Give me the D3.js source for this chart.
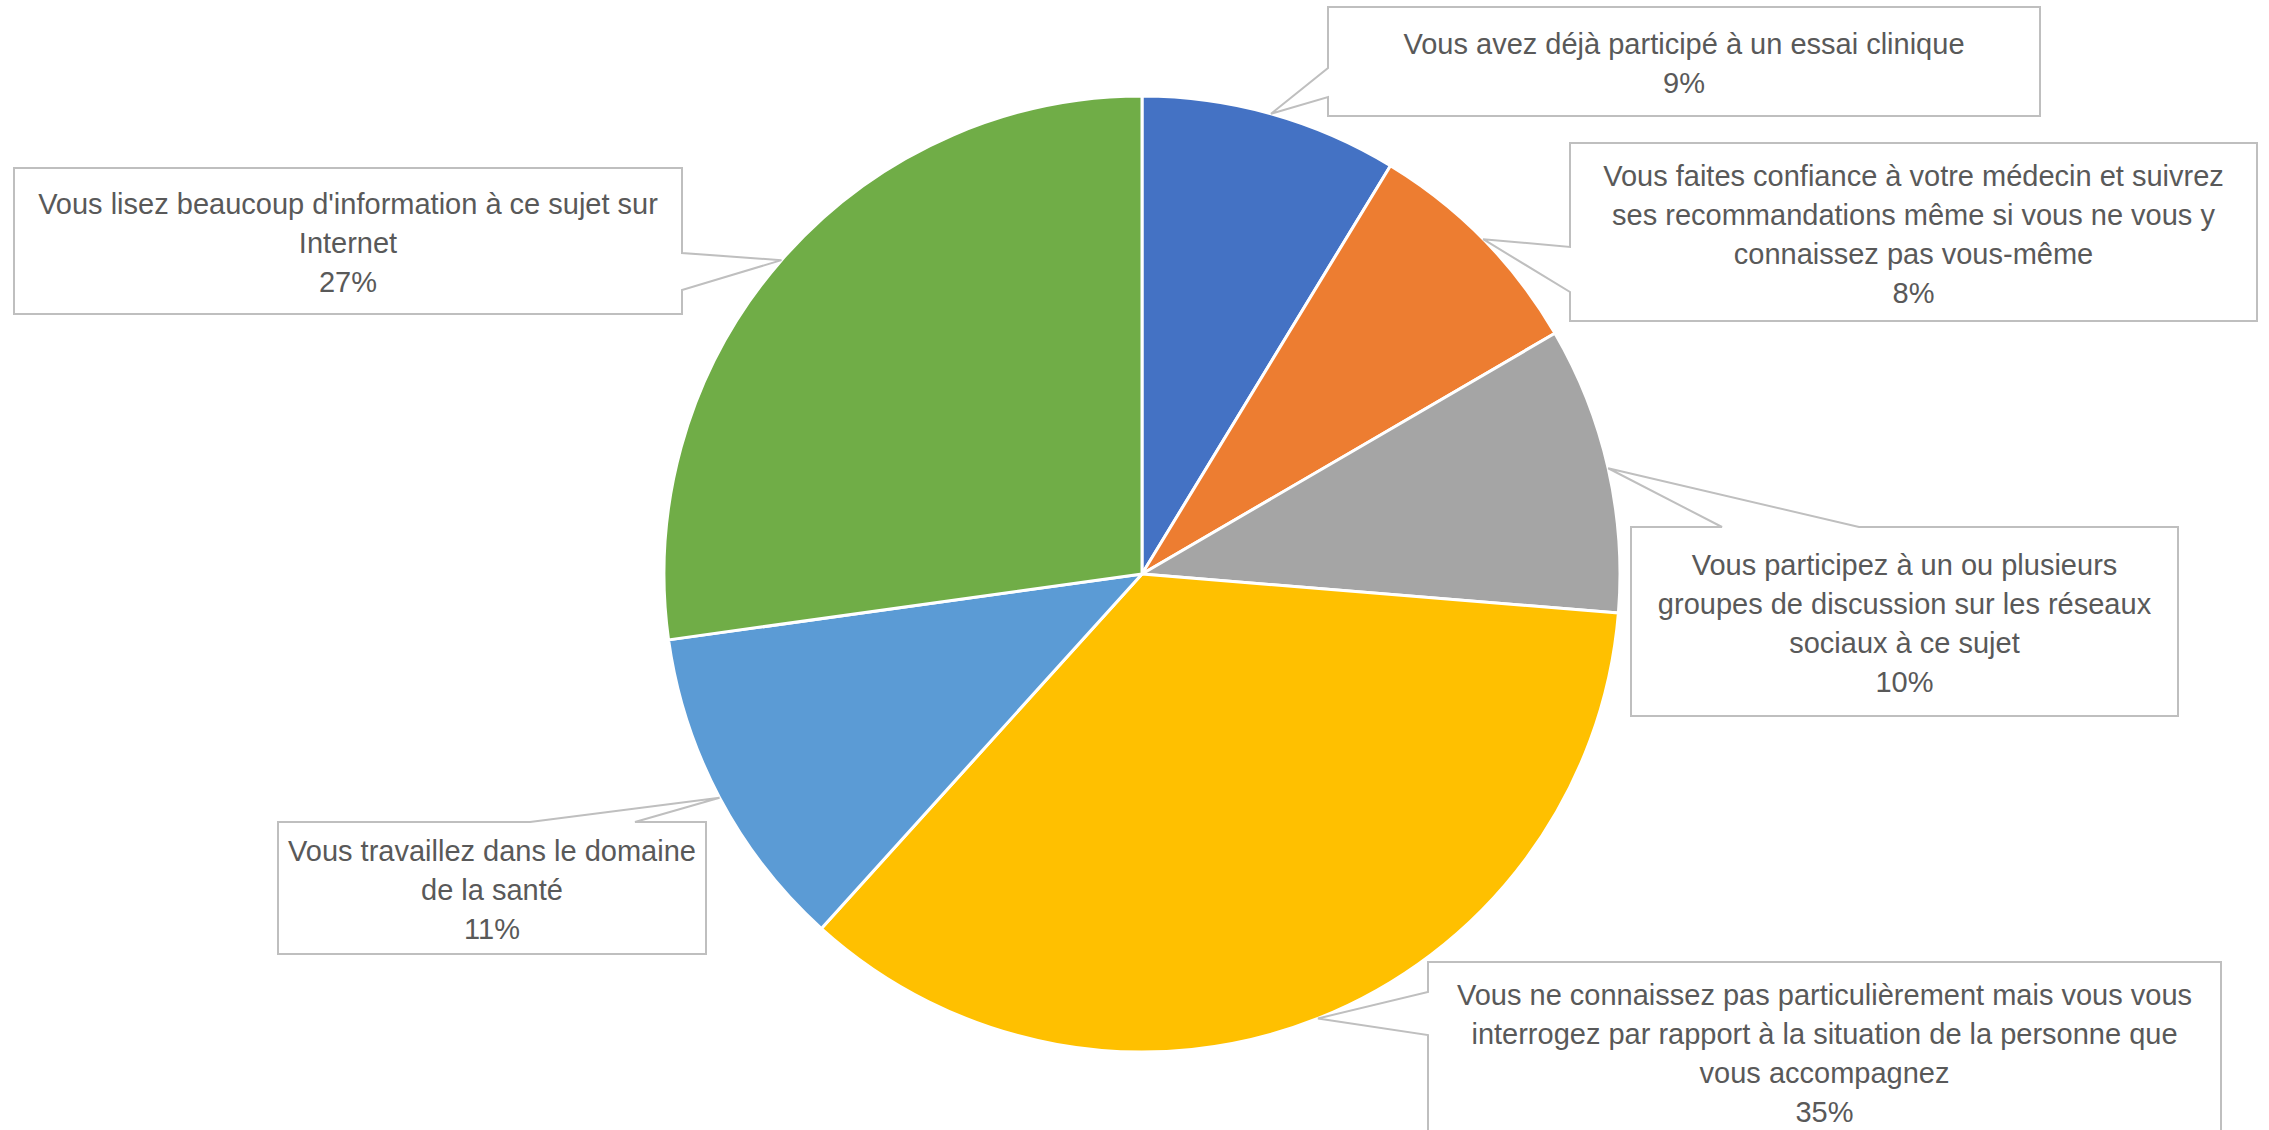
<!DOCTYPE html>
<html lang="fr">
<head>
<meta charset="utf-8">
<title>Pie</title>
<script src="https://cdn.jsdelivr.net/npm/d3@7"></script>
<style>
  body { margin: 0; background: #fff; }
  svg text { font-family: "Liberation Sans", Arial, sans-serif; fill: #595959; }
</style>
</head>
<body>
<div id="chart"></div>
<script>
// data
var categories = [
  "Vous avez déjà participé à un essai clinique",
  "Vous faites confiance à votre médecin et suivrez\nses recommandations même si vous ne vous y\nconnaissez pas vous-même",
  "Vous participez à un ou plusieurs\ngroupes de discussion sur les réseaux\nsociaux à ce sujet",
  "Vous ne connaissez pas particulièrement mais vous vous\ninterrogez par rapport à la situation de la personne que\nvous accompagnez",
  "Vous travaillez dans le domaine\nde la santé",
  "Vous lisez beaucoup d'information à ce sujet sur\nInternet"
];
var values = [8.7, 7.9, 9.7, 35.4, 11.1, 27.2];
var colors = ["#4472C4", "#ED7D31", "#A5A5A5", "#FFC000", "#5B9BD5", "#70AD47"];

// callout boxes: x0,y0,x1,y1, side the pointer leaves from, base of the pointer on that side
var boxes = [
  {x0: 1328, y0: 7,   x1: 2040, y1: 116,  side: "left",  b0: 68,   b1: 97},
  {x0: 1570, y0: 143, x1: 2257, y1: 321,  side: "left",  b0: 247,  b1: 292},
  {x0: 1631, y0: 527, x1: 2178, y1: 716,  side: "top",   b0: 1722, b1: 1859},
  {x0: 1428, y0: 962, x1: 2221, y1: 1141, side: "left",  b0: 992,  b1: 1035},
  {x0: 278,  y0: 822, x1: 706,  y1: 954,  side: "top",   b0: 530,  b1: 635},
  {x0: 14,   y0: 168, x1: 682,  y1: 314,  side: "right", b0: 253,  b1: 290}
];

var W = 2269, H = 1130;
var cx = 1142, cy = 574, R = 478;
var fontSize = 29, lineH = 39;

var svg = d3.select("#chart").append("svg")
    .attr("width", W)
    .attr("height", H);

var pie = d3.pie().sort(null).value(function(d) { return d; });
var arcs = pie(values);

var arc = d3.arc().innerRadius(0).outerRadius(R);
var edge = d3.arc().innerRadius(R).outerRadius(R);

var g = svg.append("g").attr("transform", "translate(" + cx + "," + cy + ")");

g.selectAll("path.slice")
    .data(arcs)
    .enter().append("path")
    .attr("class", "slice")
    .attr("d", arc)
    .attr("fill", function(d, i) { return colors[i]; })
    .attr("stroke", "#fff")
    .attr("stroke-width", 3)
    .attr("stroke-linejoin", "round");

// callout outline with the pointer built in
function calloutPath(b, tip) {
  var p = [];
  if (b.side == "left") {
    p = [[b.x0, b.y0], [b.x1, b.y0], [b.x1, b.y1], [b.x0, b.y1], [b.x0, b.b1], tip, [b.x0, b.b0]];
  } else if (b.side == "right") {
    p = [[b.x0, b.y0], [b.x1, b.y0], [b.x1, b.b0], tip, [b.x1, b.b1], [b.x1, b.y1], [b.x0, b.y1]];
  } else {
    p = [[b.x0, b.y0], [b.b0, b.y0], tip, [b.b1, b.y0], [b.x1, b.y0], [b.x1, b.y1], [b.x0, b.y1]];
  }
  return "M" + p.map(function(q) { return q[0] + "," + q[1]; }).join("L") + "Z";
}

var fmt = d3.format(".0f");

var labels = svg.selectAll("g.label")
    .data(arcs)
    .enter().append("g")
    .attr("class", "label");

labels.append("path")
    .attr("d", function(d, i) {
      var c = edge.centroid(d);
      return calloutPath(boxes[i], [cx + c[0], cy + c[1]]);
    })
    .attr("fill", "#fff")
    .attr("stroke", "#BFBFBF")
    .attr("stroke-width", 2);

labels.each(function(d, i) {
  var b = boxes[i];
  var lines = categories[i].split("\n").concat([fmt(d.data) + "%"]);
  var mx = (b.x0 + b.x1) / 2, my = (b.y0 + b.y1) / 2 + 2;
  var top = my - (lines.length - 1) * lineH / 2;
  d3.select(this).selectAll("text")
    .data(lines)
    .enter().append("text")
    .attr("x", mx)
    .attr("y", function(t, k) { return top + k * lineH + fontSize * 0.35; })
    .attr("text-anchor", "middle")
    .attr("font-size", fontSize)
    .text(function(t) { return t; });
});
</script>
</body>
</html>
